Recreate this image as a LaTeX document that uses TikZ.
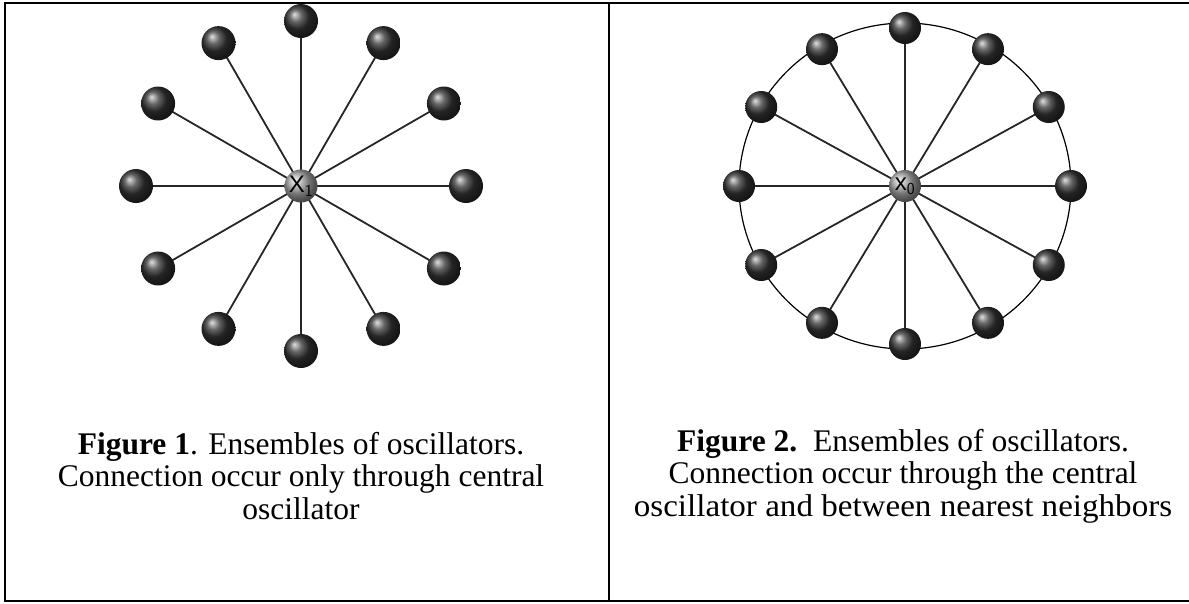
\documentclass[tikz,border=0pt]{standalone}
\usepackage{fontspec}
\usepackage{graphicx}
\setmainfont{Liberation Serif}
\newfontfamily\hubfont{Liberation Sans}
\begin{document}
\begin{tikzpicture}[x=1pt,y=-1pt,
  ball/.style={circle,minimum size=34pt,inner sep=0pt,shading=ball,ball color=black!80},
  ballB/.style={circle,minimum size=32pt,inner sep=0pt,shading=ball,ball color=black!80},
  hub/.style={circle,minimum size=33pt,inner sep=0pt,shading=ball,ball color=black!35,font=\hubfont\fontsize{24}{24}\selectfont},
  spoke/.style={draw=black!85,line width=1.8pt},
  frame/.style={draw=black,line width=2.8pt},
  thinframe/.style={draw=black,line width=1.2pt},
  captext/.style={align=center,font=\fontsize{31.5}{32.5}\selectfont}]
\useasboundingbox (0,0) rectangle (1189,603);
% frame
\coordinate (tl) at (5,3);
\coordinate (t1) at (118,3);
\coordinate (t2) at (493,3);
\coordinate (t3) at (707,3);
\coordinate (t4) at (1097,3);
\coordinate (tr) at (1189,3);
\coordinate (bl) at (5,601);
\coordinate (br) at (1189,601);
\coordinate (mt) at (609,3);
\coordinate (mb) at (609,601);
\draw[frame] (t1) -- (tl) -- (bl) -- (br);
\draw[frame] (t2) -- (t3);
\draw[frame] (t4) -- (tr);
\draw[thinframe] (t1) -- (t2);
\draw[thinframe] (t3) -- (t4);
\draw[frame] (mt) -- (mb);
% figure 1
\coordinate (c1pos) at (301,186);
\foreach \i in {0,...,11}{
  \path (c1pos) ++({\i*30}:165pt and 165pt) coordinate (p1\i);
}
\foreach \i in {0,...,11}{
  \draw[spoke] (c1pos) -- (p1\i);
}
\foreach \i in {0,...,11}{
  \node[ball] (a\i) at (p1\i) {};
}
\node[hub] (c1) at (c1pos) {X$_\mathsf{1}$};
% figure 2
\coordinate (c2pos) at (905,186);
\draw[black,line width=1.2pt] (c2pos) ellipse [x radius=166pt, y radius=163pt];
\foreach \i in {0,...,11}{
  \path (c2pos) ++({\i*30}:166pt and 158pt) coordinate (p2\i);
}
\foreach \i in {0,...,11}{
  \draw[spoke] (c2pos) -- (p2\i);
}
\foreach \i in {0,...,11}{
  \node[ballB] (b\i) at (p2\i) {};
}
\node[hub,minimum size=32pt] (c2) at (c2pos) {x$_\mathsf{0}$};
% captions
\node[captext] (cap1) at (301,476) {\textbf{Figure 1}. Ensembles of oscillators.\\Connection occur only through central\\oscillator};
\node[captext] (cap2) at (903,476) {\textbf{Figure 2.}\ \ Ensembles of oscillators.\\Connection occur through the central\\\scalebox{1.05}[1]{oscillator and between nearest neighbors}};
\end{tikzpicture}
\end{document}
